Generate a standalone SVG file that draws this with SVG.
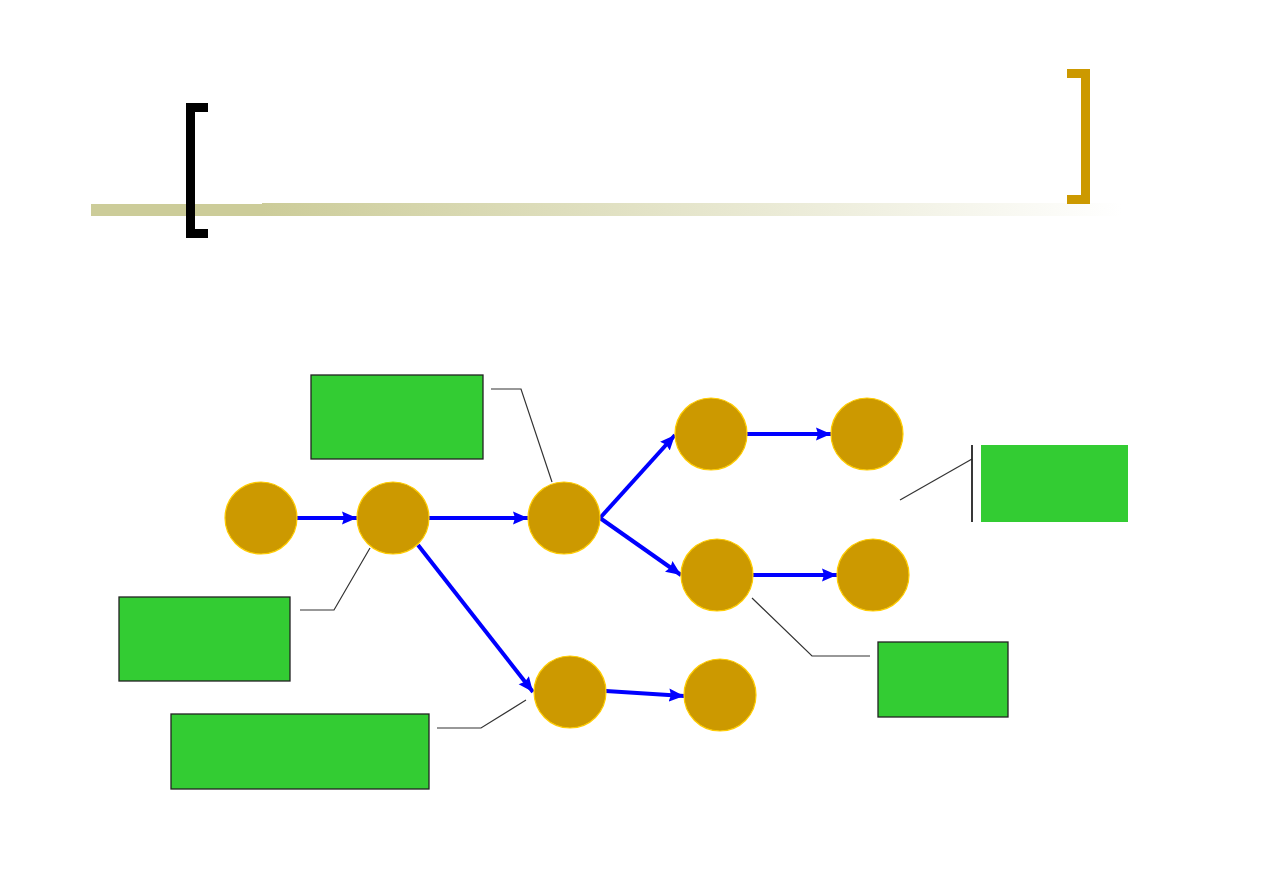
<svg xmlns="http://www.w3.org/2000/svg" width="1263" height="893" viewBox="0 0 1263 893">
<defs>
<linearGradient id="fade" x1="262" y1="0" x2="1122" y2="0" gradientUnits="userSpaceOnUse">
<stop offset="0" stop-color="#CCCC99"/>
<stop offset="1" stop-color="#FFFFFF"/>
</linearGradient>
<marker id="ah" markerWidth="15" markerHeight="14" refX="15" refY="7" orient="auto" markerUnits="userSpaceOnUse">
<path d="M0,0.5 L15,7 L0,13.5 L2,7 Z" fill="#0000FF"/>
</marker>
</defs>
<style>
.node{fill:#CC9900;stroke:#FFCC00;stroke-width:1.2}
.edge{stroke:#0000FF;stroke-width:4;fill:none;marker-end:url(#ah)}
.box{fill:#33CC33;stroke:#222;stroke-width:1.3}
.call{fill:none;stroke:#333;stroke-width:1.2}
</style>
<rect width="1263" height="893" fill="#FFFFFF"/>
<g id="header">
<rect x="91" y="204" width="171" height="12" fill="#CCCC99"/>
<rect x="262" y="203" width="860" height="13" fill="url(#fade)"/>
<path d="M208,103 L186,103 L186,238 L208,238 L208,229 L195,229 L195,112 L208,112 Z" fill="#000000"/>
<path d="M1067,69 L1090,69 L1090,204 L1067,204 L1067,195 L1081,195 L1081,78 L1067,78 Z" fill="#CC9900"/>
</g>
<g id="connectors">
<line class="edge" x1="297" y1="518" x2="357" y2="518"/>
<line class="edge" x1="429" y1="518" x2="528" y2="518"/>
<line class="edge" x1="418" y1="545" x2="533" y2="692"/>
<line class="edge" x1="600" y1="518" x2="675" y2="435"/>
<line class="edge" x1="600" y1="518" x2="681" y2="575"/>
<line class="edge" x1="747" y1="434" x2="831" y2="434"/>
<line class="edge" x1="753" y1="575" x2="837" y2="575"/>
<line class="edge" x1="606" y1="691" x2="684" y2="696"/>
<polyline class="call" points="491,389 521,389 552,482"/>
<polyline class="call" points="300,610 334,610 370,548"/>
<polyline class="call" points="437,728 481,728 526,700"/>
<polyline class="call" points="752,598 812,656 870,656"/>
<polyline class="call" points="900,500 972,459"/>
<line x1="972" y1="445" x2="972" y2="522" stroke="#222" stroke-width="1.8"/>
</g>
<g id="n1"><circle class="node" cx="261" cy="518" r="36"/></g>
<g id="n2"><circle class="node" cx="393" cy="518" r="36"/></g>
<g id="n3"><circle class="node" cx="564" cy="518" r="36"/></g>
<g id="n4"><circle class="node" cx="711" cy="434" r="36"/></g>
<g id="n5"><circle class="node" cx="867" cy="434" r="36"/></g>
<g id="n6"><circle class="node" cx="717" cy="575" r="36"/></g>
<g id="n7"><circle class="node" cx="873" cy="575" r="36"/></g>
<g id="n8"><circle class="node" cx="570" cy="692" r="36"/></g>
<g id="n9"><circle class="node" cx="720" cy="695" r="36"/></g>
<g id="boxA"><rect class="box" x="311" y="375" width="172" height="84"/></g>
<g id="boxB"><rect class="box" x="119" y="597" width="171" height="84"/></g>
<g id="boxC"><rect class="box" x="171" y="714" width="258" height="75"/></g>
<g id="boxD"><rect class="box" x="878" y="642" width="130" height="75"/></g>
<g id="boxE"><rect x="981" y="445" width="147" height="77" fill="#33CC33"/></g>
</svg>
